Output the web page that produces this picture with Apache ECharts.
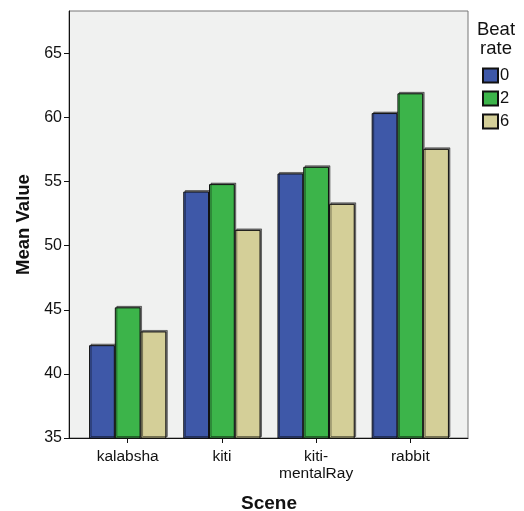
<!DOCTYPE html>
<html>
<head>
<meta charset="utf-8">
<script src="https://cdn.jsdelivr.net/npm/echarts@6/dist/echarts.min.js"></script>
<style>
  html, body { margin: 0; padding: 0; background: #fff; }
  #main { width: 524px; height: 511px; }
</style>
</head>
<body>
<div id="main"></div>
<script>
// data
var scenes = ['kalabsha', 'kiti', 'kiti-\nmentalRay', 'rabbit'];
var rate0 = [42.24, 54.22, 55.63, 60.34];
var rate2 = [45.19, 54.80, 56.15, 61.88];
var rate6 = [43.31, 51.23, 53.26, 57.55];
var yTicks = [35, 40, 45, 50, 55, 60, 65];
var yMin = 35, yMax = 68.3;

var font = 'Liberation Sans, Arial, sans-serif';

function bar(name, data, color) {
  return {
    name: name,
    type: 'bar',
    xAxisIndex: 1,
    yAxisIndex: 1,
    data: data,
    barGap: '0%',
    barCategoryGap: '18%',
    itemStyle: {
      color: color,
      borderColor: '#111',
      borderWidth: 1,
      shadowColor: 'rgba(0,0,0,0.45)',
      shadowOffsetX: 1.5,
      shadowOffsetY: -1.5,
      shadowBlur: 0
    }
  };
}

var option = {
  animation: false,
  backgroundColor: '#fff',
  textStyle: { fontFamily: font },
  title: {
    text: 'Beat\nrate',
    left: 491,
    top: 15,
    textAlign: 'center',
    textStyle: { fontSize: 18.5, fontWeight: 'normal', color: '#111', lineHeight: 19, fontFamily: font }
  },
  legend: {
    orient: 'vertical',
    left: 482,
    top: 67,
    padding: 0,
    itemWidth: 15,
    itemHeight: 14,
    itemGap: 6,
    icon: 'rect',
    textStyle: { fontSize: 16.5, color: '#111', padding: [0, 0, 0, -3], fontFamily: font },
    data: ['0', '2', '6']
  },
  grid: [
    // frame + background
    { left: 69, top: 11, width: 399, height: 427, show: true, containLabel: false,
      outerBoundsMode: 'none',
      backgroundColor: '#F0F1F0', borderColor: '#777', borderWidth: 1 },
    // data area (categories inset from the frame)
    { left: 80.6, top: 11, width: 376.8, height: 427, containLabel: false,
      outerBoundsMode: 'none' }
  ],
  xAxis: [
    { gridIndex: 0, type: 'value', min: 0, max: 1,
      axisLine: { show: true, onZero: false, lineStyle: { color: '#111', width: 1 } },
      axisTick: { show: false }, axisLabel: { show: false }, splitLine: { show: false } },
    { gridIndex: 1, type: 'category', data: scenes,
      name: 'Scene',
      nameLocation: 'middle',
      nameGap: 56,
      nameTextStyle: { fontSize: 19, fontWeight: 'bold', color: '#111', fontFamily: font },
      axisLine: { show: false },
      axisTick: { show: true, alignWithLabel: true, length: 5, lineStyle: { color: '#111' } },
      axisLabel: { interval: 0, fontSize: 15.5, color: '#111', margin: 10, lineHeight: 17, fontFamily: font } }
  ],
  yAxis: [
    { gridIndex: 0, type: 'value', min: yMin, max: yMax, interval: 5,
      name: 'Mean Value',
      nameLocation: 'middle',
      nameGap: 31,
      nameTextStyle: { fontSize: 18.5, fontWeight: 'bold', color: '#111', fontFamily: font },
      splitLine: { show: false },
      axisLine: { show: true, lineStyle: { color: '#111', width: 1 } },
      axisTick: { show: true, length: 5, customValues: yTicks, lineStyle: { color: '#111' } },
      axisLabel: { fontSize: 16, color: '#111', margin: 7, customValues: yTicks, fontFamily: font } },
    { gridIndex: 1, type: 'value', min: yMin, max: yMax, show: false, splitLine: { show: false } }
  ],
  series: [
    bar('0', rate0, '#3E58A8'),
    bar('2', rate2, '#3CB44A'),
    bar('6', rate6, '#D4CF98')
  ]
};

var myChart = echarts.init(document.getElementById('main'));
myChart.setOption(option);
</script>
</body>
</html>
